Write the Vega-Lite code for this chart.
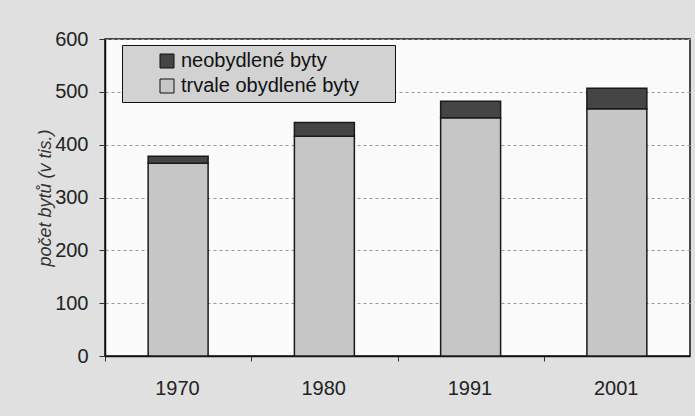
{
  "$schema": "https://vega.github.io/schema/vega-lite/v6.json",
  "width": 585,
  "height": 317,
  "autosize": {"type": "none"},
  "padding": {"left": 105, "top": 39, "right": 5, "bottom": 60},
  "background": "#e0e0e0",
  "data": {"values": [
    {"rok": "1970", "typ": "trvale obydlené byty", "pocet": 365},
    {"rok": "1970", "typ": "neobydlené byty", "pocet": 13},
    {"rok": "1980", "typ": "trvale obydlené byty", "pocet": 416},
    {"rok": "1980", "typ": "neobydlené byty", "pocet": 26},
    {"rok": "1991", "typ": "trvale obydlené byty", "pocet": 451},
    {"rok": "1991", "typ": "neobydlené byty", "pocet": 31},
    {"rok": "2001", "typ": "trvale obydlené byty", "pocet": 468},
    {"rok": "2001", "typ": "neobydlené byty", "pocet": 39}
  ]},
  "mark": {"type": "bar", "stroke": "#1a1a1a", "strokeWidth": 1.5},
  "encoding": {
    "x": {
      "field": "rok", "type": "nominal",
      "scale": {"paddingInner": 0.59, "paddingOuter": 0.295},
      "axis": {
        "title": null, "labelAngle": 0, "labelFontSize": 20, "labelColor": "#222",
        "bandPosition": 0, "tickOffset": -43.14, "labelOffset": 42,
        "tickSize": 5, "tickColor": "#333", "domainColor": "#111", "domainWidth": 1.5,
        "labelPadding": 17, "grid": false
      }
    },
    "y": {
      "field": "pocet", "type": "quantitative", "stack": "zero",
      "scale": {"domain": [0, 600]},
      "axis": {
        "title": "počet bytů (v tis.)", "titleFontStyle": "italic", "titleFontWeight": "normal",
        "titleFontSize": 18, "titleColor": "#333", "titlePadding": 0,
        "values": [0, 100, 200, 300, 400, 500, 600],
        "labelFontSize": 20, "labelColor": "#222", "tickSize": 6, "labelPadding": 11,
        "tickColor": "#333", "domainColor": "#111", "domainWidth": 1.5,
        "gridDash": [3, 3], "gridColor": "#9a9a9a"
      }
    },
    "color": {
      "field": "typ", "type": "nominal",
      "scale": {"domain": ["neobydlené byty", "trvale obydlené byty"], "range": ["#454545", "#c6c6c6"]},
      "legend": {
        "title": null, "orient": "none", "legendX": 17, "legendY": 6,
        "fillColor": "#d2d2d2", "strokeColor": "#111", "padding": 6,
        "labelFontSize": 20, "labelColor": "#111", "labelLimit": 400,
        "symbolType": "square", "symbolSize": 196, "symbolStrokeColor": "#111", "symbolStrokeWidth": 1,
        "symbolOffset": 29, "labelOffset": 4, "rowPadding": 5,
        "labelExpr": "datum.label + '\u2002\u2002\u2002\u200d'"
      }
    },
    "order": {"field": "typ", "sort": "descending"}
  },
  "config": {
    "font": "Liberation Sans",
    "view": {"fill": "#fbfbfb", "stroke": "#111", "strokeWidth": 1.5}
  }
}
